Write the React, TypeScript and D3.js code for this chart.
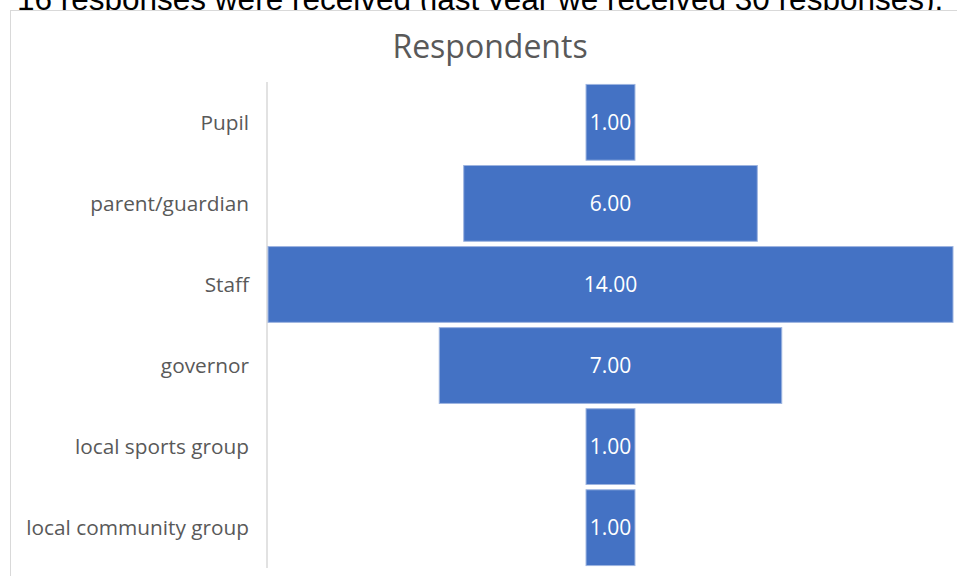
import React from "react";
import * as d3 from "d3";

const categories = ["Pupil", "parent/guardian", "Staff", "governor", "local sports group", "local community group"];
const values = [1, 6, 14, 7, 1, 1];
const chartTitle = "Respondents";
const headerText = "16 responses were received (last year we received 30 responses).";

const W = 957;
const H = 576;

export default function App() {
  const plotLeft = 268;
  const plotRight = 953;
  const plotTop = 82;
  const plotBottom = 568;
  const center = (plotLeft + plotRight) / 2;
  const maxV = d3.max(values) as number;
  const w = d3.scaleLinear().domain([0, maxV]).range([0, plotRight - plotLeft]);
  const y = d3.scaleBand<string>().domain(categories).range([plotTop, plotBottom]).paddingInner(0.065).paddingOuter(0.03);
  const fmt = d3.format(".2f");

  return (
    <svg width={W} height={H} style={{ position: "absolute", left: 0, top: 0 }}>
      <rect x={0} y={0} width={W} height={H} fill="#ffffff" />
      <text x={17} y={10} fontFamily="'Liberation Sans', Arial, sans-serif" fontSize={31.5} fill="#000000">
        {headerText}
      </text>
      <rect x={10.5} y={10.5} width={970} height={600} fill="#ffffff" stroke="#d9d9d9" strokeWidth={1} />
      <text x={490} y={58} textAnchor="middle" fontFamily="'Open Sans', sans-serif" fontSize={32} fill="#595959">
        {chartTitle}
      </text>
      <line x1={267} x2={267} y1={plotTop} y2={plotBottom} stroke="#d9d9d9" strokeWidth={1.5} />
      {categories.map((c, i) => {
        const bw = w(values[i]);
        const by = y(c) as number;
        const bh = y.bandwidth();
        return (
          <g key={c}>
            <rect x={center - bw / 2} y={by} width={bw} height={bh} fill="#4472C4" stroke="#9db4e0" strokeWidth={1} />
            <text x={center} y={by + bh / 2} dy="0.36em" textAnchor="middle" fontFamily="'Open Sans', sans-serif" fontSize={21} fill="#ffffff">
              {fmt(values[i])}
            </text>
            <text x={249} y={by + bh / 2} dy="0.36em" textAnchor="end" fontFamily="'Open Sans', sans-serif" fontSize={20.8} fill="#595959">
              {c}
            </text>
          </g>
        );
      })}
    </svg>
  );
}
